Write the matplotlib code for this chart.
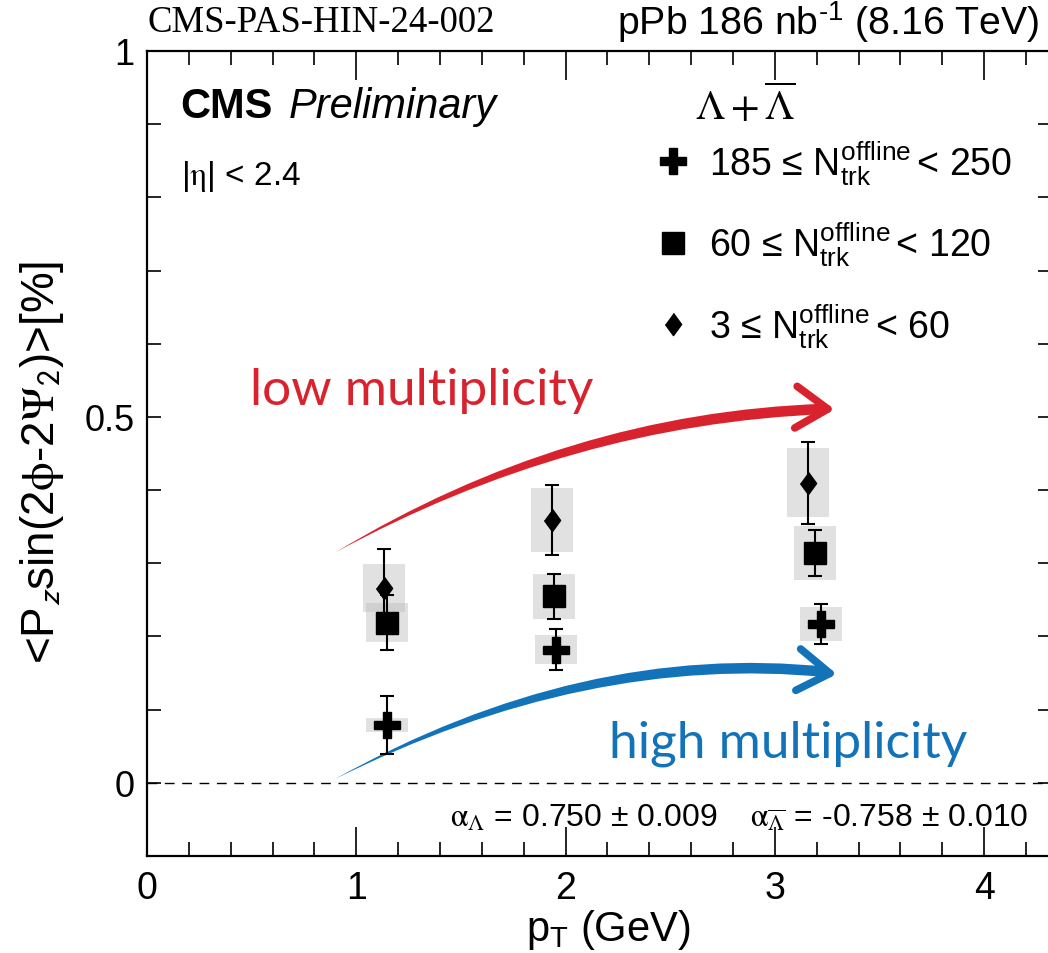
import matplotlib.pyplot as plt
from matplotlib.patches import FancyArrowPatch

plt.rcParams['font.family'] = ['Liberation Sans', 'DejaVu Sans']
plt.rcParams['mathtext.fontset'] = 'custom'
plt.rcParams['mathtext.rm'] = 'Liberation Sans'
plt.rcParams['mathtext.it'] = 'Liberation Sans:italic'
plt.rcParams['mathtext.bf'] = 'Liberation Sans:bold'

# Lambda + anti-Lambda, three multiplicity classes
pt_high = [1.147, 1.954, 3.22]
val_high = [0.079, 0.182, 0.217]
stat_high = [0.040, 0.028, 0.028]
sys_high = [0.009, 0.020, 0.023]

pt_mid = [1.147, 1.945, 3.19]
val_mid = [0.219, 0.255, 0.314]
stat_mid = [0.037, 0.031, 0.032]
sys_mid = [0.027, 0.031, 0.037]

pt_low = [1.132, 1.935, 3.158]
val_low = [0.266, 0.359, 0.41]
stat_low = [0.053, 0.048, 0.056]
sys_low = [0.033, 0.044, 0.047]

labels = [r'185 ≤ N$_{\rm trk}^{\rm offline}\,$< 250',
          r'60 ≤ N$_{\rm trk}^{\rm offline}\,$< 120',
          r'3 ≤ N$_{\rm trk}^{\rm offline}\,$< 60']

RED = '#d8232f'
BLUE = '#1273b9'
diamond = [(0, 1), (0.73, 0), (0, -1), (-0.73, 0)]

fig = plt.figure(figsize=(10.48, 9.54), dpi=100)
ax = fig.add_axes([0.1403, 0.1017, 0.8636, 0.8438])

series = [
    (pt_high, val_high, stat_high, sys_high, 'P', 19),
    (pt_mid, val_mid, stat_mid, sys_mid, 's', 16),
    (pt_low, val_low, stat_low, sys_low, diamond, 16),
]

# systematic boxes
for pt, val, stat, sys_, m, ms in series:
    ax.bar(pt, [2 * s for s in sys_], bottom=[v - s for v, s in zip(val, sys_)],
           width=0.2, color='#bdbdbd', alpha=0.45, linewidth=0, zorder=1)

handles = []
for (pt, val, stat, sys_, m, ms), lab in zip(series, labels):
    ax.errorbar(pt, val, yerr=stat, fmt='none', ecolor='black', elinewidth=1.5,
                capsize=5, capthick=1.5, zorder=3)
    h, = ax.plot(pt, val, marker=m, ms=ms, ls='none', color='black', label=lab, zorder=4)
    handles.append(h)

ax.axhline(0, color='black', lw=1.0, ls=(0, (7, 5.5)), zorder=2)

ax.set_xlim(0, 4.325)
ax.set_ylim(-0.1, 1.0)
ax.set_xticks([0, 1, 2, 3, 4])
ax.set_xticks([i * 0.2 for i in range(22)], minor=True)
ax.set_yticks([0, 0.5, 1])
ax.set_yticklabels(['0', '0.5', '1'])
ax.set_yticks([i * 0.1 - 0.1 for i in range(12)], minor=True)
ax.tick_params(which='both', direction='in', top=True, right=True, width=1.2,
               labelsize=26)
ax.tick_params(axis='x', which='major', length=21, pad=10, labelsize=27)
ax.tick_params(axis='x', which='minor', length=10)
ax.tick_params(axis='y', which='both', length=10, pad=9)
for sp in ax.spines.values():
    sp.set_linewidth(1.6)

ax.set_xlabel(r'p$_{\rm T}$ (GeV)', fontsize=30)
ax.xaxis.set_label_coords(0.51, -0.063)
ax.set_ylabel(r'<P$_{\mathsf{z}}$sin(2$\mathrm{\phi}$-2$\mathrm{\Psi}_{\mathsf{2}}$)>[%]',
              fontsize=33, math_fontfamily='stix')
ax.yaxis.set_label_coords(-0.09, 0.49)

# headers
fig.text(0.141, 0.966, 'CMS-PAS-HIN-24-002', family='Liberation Serif', fontsize=26.5,
         va='baseline')
fig.text(0.992, 0.963, r'pPb 186 nb$^{\text{-1}}$ (8.16 TeV)', fontsize=28.3,
         ha='right', va='baseline')
ax.text(0.037, 0.918, 'CMS', fontsize=30, fontweight='bold', transform=ax.transAxes,
        va='baseline')
ax.text(0.156, 0.918, 'Preliminary', fontsize=30, style='italic',
        transform=ax.transAxes, va='baseline')
ax.text(0.037, 0.835, r'|$\mathrm{\eta}$| < 2.4', fontsize=24, transform=ax.transAxes,
        va='baseline', math_fontfamily='stix')
ax.text(0.605, 0.915, r'$\Lambda + \overline{\Lambda}$', fontsize=30,
        transform=ax.transAxes, va='baseline', math_fontfamily='stix')
ax.text(0.335, 0.038, r'$\mathrm{\alpha}_{\Lambda}$ = 0.750 ± 0.009', fontsize=23,
        transform=ax.transAxes, va='baseline', math_fontfamily='stix')
ax.text(0.666, 0.038, r'$\mathrm{\alpha}_{\overline{\Lambda}}$ = -0.758 ± 0.010',
        fontsize=23, transform=ax.transAxes, va='baseline', math_fontfamily='stix')

ax.legend(handles=handles, loc='upper left', bbox_to_anchor=(0.54, 0.915),
          frameon=False, fontsize=27, labelspacing=0.87, handlelength=1.0,
          handletextpad=0.45, borderpad=0)

# trend arrows (brush strokes)
ax.add_patch(FancyArrowPatch((3.25, 0.511), (0.889, 0.313),
                             arrowstyle='wedge,tail_width=7.5,shrink_factor=0.85',
                             connectionstyle='angle3,angleA=2,angleB=30',
                             color=RED, lw=0, mutation_scale=1, zorder=2))
ax.add_patch(FancyArrowPatch((3.18, 0.512), (3.30, 0.510),
                             arrowstyle='->,head_length=23,head_width=15',
                             color=RED, lw=5.5, mutation_scale=1, capstyle='round',
                             zorder=2))
ax.add_patch(FancyArrowPatch((3.26, 0.151), (0.884, 0.003),
                             arrowstyle='wedge,tail_width=7.5,shrink_factor=0.85',
                             connectionstyle='angle3,angleA=-6,angleB=28',
                             color=BLUE, lw=0, mutation_scale=1, zorder=2))
ax.add_patch(FancyArrowPatch((3.19, 0.152), (3.31, 0.148),
                             arrowstyle='->,head_length=23,head_width=15',
                             color=BLUE, lw=5.5, mutation_scale=1, capstyle='round',
                             zorder=2))
ax.text(0.114, 0.5615, 'low multiplicity', color=RED, family='Lato', fontsize=37,
        transform=ax.transAxes, va='baseline')
ax.text(0.51, 0.124, 'high multiplicity', color=BLUE, family='Lato', fontsize=37,
        transform=ax.transAxes, va='baseline')

fig.savefig('out.png', dpi=100)
